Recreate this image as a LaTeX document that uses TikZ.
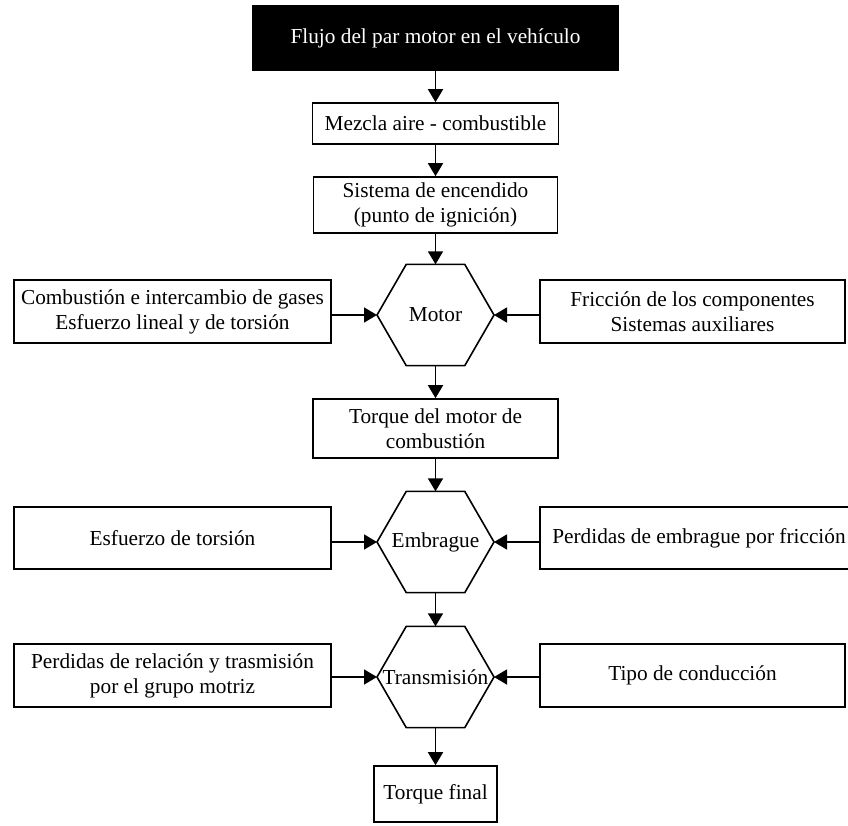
\documentclass[tikz,border=0pt]{standalone}
\usepackage{fontspec}
\setmainfont{Liberation Serif}
\usetikzlibrary{arrows.meta,shapes.geometric}
\begin{document}
\begin{tikzpicture}[x=1pt,y=-1pt,
  font=\fontsize{21.3}{25}\selectfont,
  box/.style={draw, line width=1.6pt, inner sep=0pt, align=center},
  hexa/.style={draw, line width=1.6pt, regular polygon, regular polygon sides=6,
               minimum size=117pt, inner sep=0pt, outer sep=0pt},
  arr/.style={line width=1.6pt, -{Triangle[length=13pt,width=15pt]}}]
\useasboundingbox (0,0) rectangle (848,825);
\clip (0,0) rectangle (848,825);
% main column
\node[box, fill=black, text=white, minimum width=365pt, minimum height=64pt] (title) at (435.5,38) {Flujo del par motor en el vehículo};
\node[box, minimum width=246pt, minimum height=41pt] (mez) at (435.5,123.5) {Mezcla aire - combustible};
\node[box, minimum width=244pt, minimum height=56pt] (sis) at (435.5,205) {Sistema de encendido\\(punto de ignición)};
\node[hexa] (motor) at (435.5,315) {\makebox[0pt]{Motor}};
\node[box, minimum width=245pt, minimum height=59pt] (tor) at (435.5,428.5) {Torque del motor de\\combustión};
\node[hexa] (emb) at (435.5,542) {\makebox[0pt]{Embrague}};
\node[hexa] (tra) at (435.5,677) {\makebox[0pt]{Transmisión}};
\node[box, minimum width=123pt, minimum height=56pt] (fin) at (435.5,794) {Torque final};
% side boxes
\node[box, minimum width=317pt, minimum height=63pt] (lm) at (172.5,311.5) {Combustión e intercambio de gases\\Esfuerzo lineal y de torsión};
\node[box, minimum width=305pt, minimum height=63pt] (rm) at (692.5,311.5) {Fricción de los componentes\\Sistemas auxiliares};
\node[box, minimum width=317pt, minimum height=62pt] (le) at (172.5,538) {Esfuerzo de torsión};
\node[box, minimum width=330pt, minimum height=62pt] (re) at (705,538) {\makebox[0pt]{\hspace*{-12pt}Perdidas de embrague por fricción}};
\node[box, minimum width=317pt, minimum height=63pt] (lt) at (172.5,675.5) {Perdidas de relación y trasmisión\\por el grupo motriz};
\node[box, minimum width=305pt, minimum height=63pt] (rt) at (692.5,675.5) {Tipo de conducción};
% connectors
\draw[arr] (title.south) -- (mez.north);
\draw[arr] (mez.south) -- (sis.north);
\draw[arr] (sis.south) -- (motor.north);
\draw[arr] (motor.south) -- (tor.north);
\draw[arr] (tor.south) -- (emb.north);
\draw[arr] (emb.south) -- (tra.north);
\draw[arr] (tra.south) -- (fin.north);
\draw[arr] (lm.east |- motor.west) -- (motor.west);
\draw[arr] (rm.west |- motor.east) -- (motor.east);
\draw[arr] (le.east |- emb.west) -- (emb.west);
\draw[arr] (re.west |- emb.east) -- (emb.east);
\draw[arr] (lt.east |- tra.west) -- (tra.west);
\draw[arr] (rt.west |- tra.east) -- (tra.east);
\end{tikzpicture}
\end{document}
